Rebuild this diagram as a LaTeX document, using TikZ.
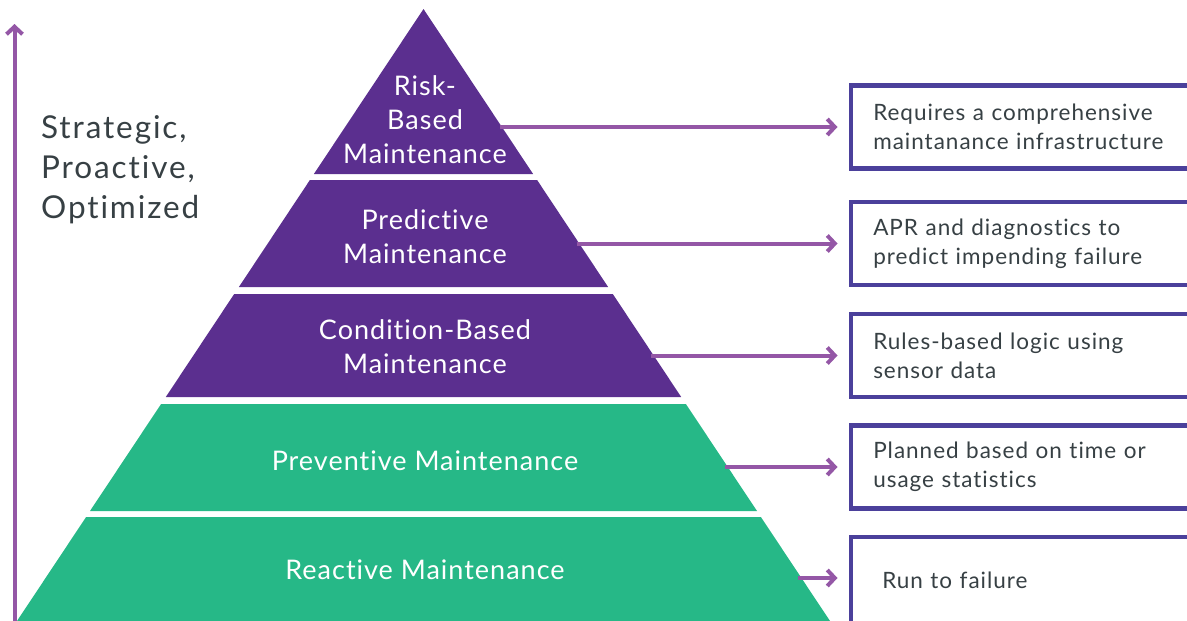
\documentclass[tikz,border=0pt]{standalone}
\usepackage{fontspec}
\setmainfont{Lato}[Ligatures=NoCommon]
\usetikzlibrary{arrows.meta}
\definecolor{pyrpurple}{RGB}{91,47,143}
\definecolor{pyrgreen}{RGB}{38,184,135}
\definecolor{arrowpurple}{RGB}{148,87,166}
\definecolor{boxblue}{RGB}{75,64,155}
\definecolor{textgray}{RGB}{55,64,68}
\begin{document}
\begin{tikzpicture}[x=1pt,y=-1pt,
  purplelayer/.style={fill=pyrpurple},
  greenlayer/.style={fill=pyrgreen},
  layertext/.style={text=white, align=center, inner sep=0pt,
    font=\fontsize{27}{34}\selectfont\addfontfeature{LetterSpace=3.7}},
  infobox/.style={draw=boxblue, line width=4.5pt, fill=white, anchor=west,
    minimum height=83pt, text width=330pt, align=left, inner xsep=22.5pt,
    inner ysep=0pt, text=textgray,
    font=\fontsize{22.5}{29}\selectfont\addfontfeature{LetterSpace=4.4}},
  conn/.style={draw=arrowpurple, line width=4pt,
    -{Straight Barb[length=7.5pt,width=16pt]}, shorten >=11pt},
]
\useasboundingbox (0,0) rectangle (1187,621);
\clip (0,0) rectangle (1187,621);

% pyramid layers
\path[purplelayer] (423.5,9) -- (533.1,174) -- (313.9,174) -- cycle;
\path[purplelayer] (309.9,180) -- (537.1,180) -- (608.1,287) -- (238.9,287) -- cycle;
\path[purplelayer] (234.2,294) -- (612.8,294) -- (681.2,397) -- (165.8,397) -- cycle;
\path[greenlayer] (161.1,404) -- (685.9,404) -- (757.0,511) -- (90.0,511) -- cycle;
\path[greenlayer] (86.1,517) -- (760.9,517) -- (830.0,621) -- (17.0,621) -- cycle;

% layer labels
\node[layertext] (l1) at (425,120) {Risk-\\Based\\Maintenance};
\node[layertext] (l2) at (425,237) {Predictive\\Maintenance};
\node[layertext] (l3) at (425,346.5) {Condition-Based\\Maintenance};
\node[layertext] (l4) at (425,461) {Preventive Maintenance};
\node[layertext] (l5) at (425,570) {Reactive Maintenance};

% left axis
\coordinate (axisbot) at (14.5,625);
\coordinate (axistop) at (14.5,24);
\draw[draw=arrowpurple, line width=4pt, -{Straight Barb[length=7.5pt,width=16pt]}] (axisbot) -- (axistop);
\node[anchor=west, align=left, inner sep=0pt, text=textgray,
  font=\fontsize{31.5}{40}\selectfont\addfontfeature{LetterSpace=6}] (side) at (41,170) {Strategic,\\Proactive,\\Optimized};

% info boxes
\node[infobox] (b1) at (848.5,127) {Requires a comprehensive\\maintanance infrastructure};
\node[infobox] (b2) at (848.5,243.5) {APR and diagnostics to\\predict impending failure};
\node[infobox] (b3) at (848.5,355.5) {Rules-based logic using\\sensor data};
\node[infobox] (b4) at (848.5,467) {Planned based on time or\\usage statistics};
\node[infobox, minimum height=86pt, inner xsep=31.5pt, text width=320pt] (b5) at (848.5,580) {Run to failure};

% connector start points on the pyramid edge
\coordinate (s1) at (500,127);
\coordinate (s2) at (577,243.5);
\coordinate (s3) at (651,355.5);
\coordinate (s4) at (725,467);
\coordinate (s5) at (798,578);

\draw[conn] (s1) -- (b1.west);
\draw[conn] (s2) -- (b2.west);
\draw[conn] (s3) -- (b3.west);
\draw[conn] (s4) -- (b4.west);
\draw[conn] (s5) -- (b5.west |- s5);
\end{tikzpicture}
\end{document}
